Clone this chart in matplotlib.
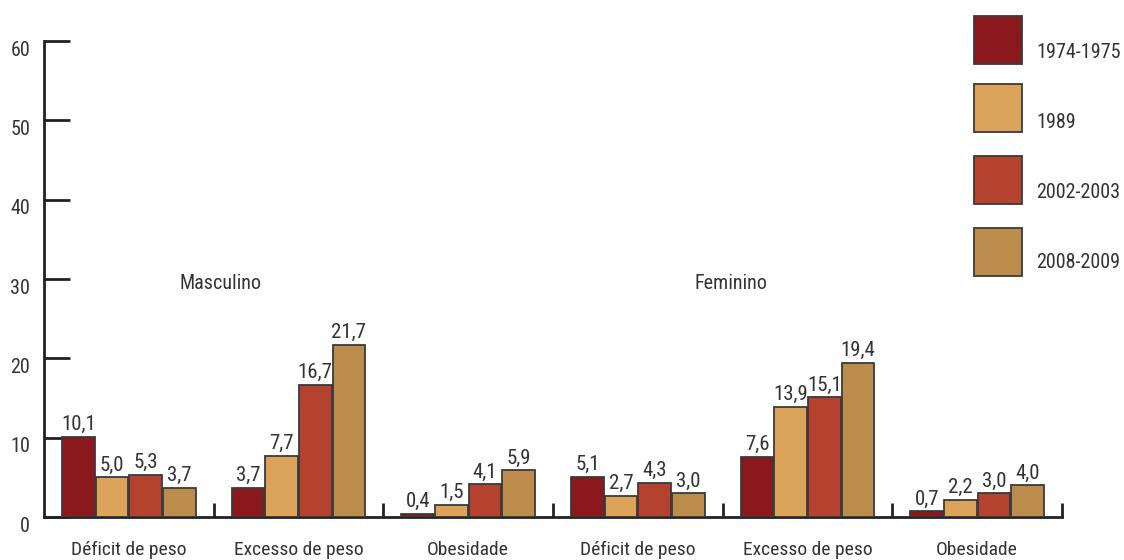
import matplotlib
matplotlib.use("Agg")
import matplotlib.pyplot as plt
from matplotlib.patches import Rectangle
import matplotlib.transforms as mtransforms
import numpy as np

plt.rcParams['font.family'] = ['Liberation Sans Narrow', 'Roboto Condensed', 'DejaVu Sans']

categories = ["Déficit de peso", "Excesso de peso", "Obesidade",
              "Déficit de peso", "Excesso de peso", "Obesidade"]
series_names = ["1974-1975", "1989", "2002-2003", "2008-2009"]
v1974 = [10.1, 3.7, 0.4, 5.1, 7.6, 0.7]
v1989 = [5.0, 7.7, 1.5, 2.7, 13.9, 2.2]
v2002 = [5.3, 16.7, 4.1, 4.3, 15.1, 3.0]
v2008 = [3.7, 21.7, 5.9, 3.0, 19.4, 4.0]
groups = ["Masculino", "Feminino"]
yticks = [0, 10, 20, 30, 40, 50, 60]

colors = ["#8A181C", "#DCA45A", "#B5412F", "#BB8C4C"]
edge = "#3a3a3a"
txt = "#333333"

fig = plt.figure(figsize=(11.24, 5.6), dpi=100)
ax = fig.add_axes([44/1124, 43/560, (1062-44)/1124, (517-41)/560])

x = np.arange(len(categories))
w = 0.198
series = [v1974, v1989, v2002, v2008]
for i, (vals, c) in enumerate(zip(series, colors)):
    pos = x + (i - 1.5) * w
    ax.bar(pos, vals, width=w * 0.97, color=c, edgecolor=edge, linewidth=1.3, zorder=3)
    for xp, v in zip(pos, vals):
        ax.annotate(f"{v:.1f}".replace(".", ","), (xp, v), xytext=(0, 2),
                    textcoords="offset points", ha="center", va="bottom",
                    fontsize=15, color=txt)

ax.set_xlim(-0.5, len(categories) - 0.5)
ax.set_ylim(0, 60)

for s in ["top", "right"]:
    ax.spines[s].set_visible(False)
for s in ["left", "bottom"]:
    ax.spines[s].set_linewidth(2)
    ax.spines[s].set_color("#222222")

ax.set_yticks(yticks)
ax.set_yticklabels([str(t) for t in yticks], fontsize=14.5, color=txt)
ax.tick_params(axis="y", direction="in", length=19, width=2, color="#222222", pad=10)
offset = mtransforms.ScaledTranslation(0, -7/100, fig.dpi_scale_trans)
for lab in ax.get_yticklabels():
    lab.set_transform(lab.get_transform() + offset)

ax.set_xticks(x)
ax.set_xticklabels(categories, fontsize=14, color=txt)
ax.tick_params(axis="x", which="major", length=0, pad=17)
ax.set_xticks(np.arange(0.5, len(categories), 1.0), minor=True)
ax.tick_params(axis="x", which="minor", direction="in", length=10, width=2, color="#222222")

ax.text(0.54, 29.4, groups[0], ha="center", va="center", fontsize=14.5, color=txt)
ax.text(3.55, 29.4, groups[1], ha="center", va="center", fontsize=14.5, color=txt)

# legend drawn manually
sq_tops = [16, 84, 156, 228]
text_y = [53, 122, 193, 263]
for name, c, top, ty in zip(series_names, colors, sq_tops, text_y):
    fig.patches.append(Rectangle((974/1124, 1 - (top + 48)/560), 48/1124, 48/560,
                                 transform=fig.transFigure, facecolor=c,
                                 edgecolor=edge, linewidth=1.3))
    fig.text(1036/1124, 1 - ty/560, name, ha="left", va="center", fontsize=14.5, color=txt)

fig.savefig("out.png", dpi=100)
